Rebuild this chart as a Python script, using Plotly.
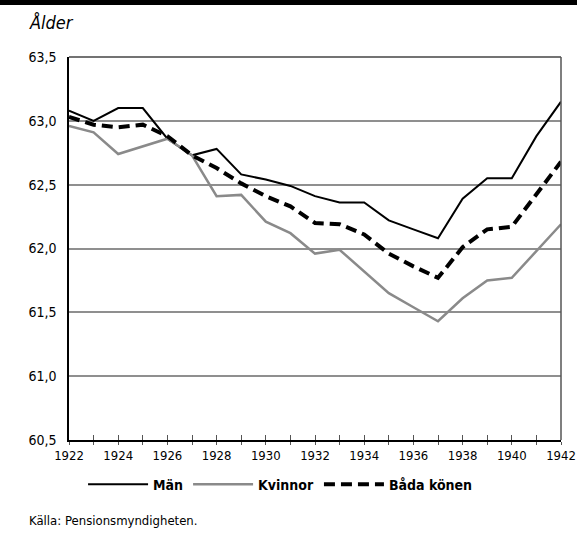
import plotly.graph_objects as go

# Genomsnittlig pensioneringsålder per födelseår
years = list(range(1922, 1943))
man = [63.08, 63.00, 63.10, 63.10, 62.86, 62.73, 62.78, 62.58, 62.54, 62.49, 62.41,
       62.36, 62.36, 62.22, 62.15, 62.08, 62.39, 62.55, 62.55, 62.88, 63.15]
kvinnor = [62.96, 62.91, 62.74, 62.80, 62.86, 62.73, 62.41, 62.42, 62.21, 62.12, 61.96,
           61.99, 61.82, 61.65, 61.54, 61.43, 61.61, 61.75, 61.77, 61.98, 62.19]
bada = [63.03, 62.97, 62.95, 62.97, 62.88, 62.73, 62.63, 62.51, 62.41, 62.33, 62.20,
        62.19, 62.11, 61.96, 61.86, 61.77, 62.01, 62.15, 62.17, 62.42, 62.68]
y_ticks = [60.5, 61.0, 61.5, 62.0, 62.5, 63.0, 63.5]
x_labels = list(range(1922, 1943, 2))

FONT = "DejaVu Sans Condensed, DejaVu Sans, sans-serif"

fig = go.Figure()
fig.add_trace(go.Scatter(x=years, y=man, mode="lines", name="Män",
                         line=dict(color="#000000", width=2)))
fig.add_trace(go.Scatter(x=years, y=kvinnor, mode="lines", name="Kvinnor",
                         line=dict(color="#8a8a8a", width=2.5)))
fig.add_trace(go.Scatter(x=years, y=bada, mode="lines", name="Båda könen",
                         line=dict(color="#000000", width=4, dash="11px,6px")))

# invisible trace to carry the inner half of the crossing x ticks
fig.add_trace(go.Scatter(x=years, y=bada, mode="lines", xaxis="x2",
                         line=dict(width=0), showlegend=False, hoverinfo="skip"))

fig.update_layout(
    width=577, height=544,
    margin=dict(l=69, r=16, t=57, b=104, autoexpand=False),
    paper_bgcolor="white", plot_bgcolor="white",
    separators=", ",
    font=dict(family=FONT, size=14, color="#000000"),
    showlegend=True,
    legend=dict(orientation="h", x=0.43, xanchor="center", y=-0.075, yanchor="top",
                font=dict(family=FONT, size=14, color="#000000", weight="bold"),
                itemwidth=60, traceorder="normal"),
    xaxis=dict(range=[1922, 1942], tickvals=x_labels, ticktext=[str(v) for v in x_labels],
               showgrid=False, showline=True, linecolor="#000000", linewidth=1.5,
               mirror=False, ticks="outside", ticklen=3, tickcolor="#555555",
               tickwidth=1, zeroline=False, ticklabeloverflow="allow",
               tickfont=dict(size=13),
               minor=dict(ticks="outside", ticklen=3, dtick=1, tickcolor="#555555")),
    xaxis2=dict(range=[1922, 1942], overlaying="x", side="bottom", anchor="y",
                tickvals=years, ticks="inside", ticklen=5, tickcolor="#555555",
                showticklabels=False, showgrid=False, showline=False, zeroline=False),
    yaxis=dict(range=[60.5, 63.5], tickvals=y_ticks, tickformat=".1f",
               showgrid=True, gridcolor="#8f8f8f", gridwidth=1.5,
               showline=True, linecolor="#000000", linewidth=1.5, mirror=False,
               ticks="", ticklabelstandoff=8, zeroline=False),
    shapes=[
        dict(type="rect", xref="paper", yref="paper", x0=-0.2, x1=1.1,
             y0=1.0 + 52 / 383, y1=1.2, fillcolor="#000000", line=dict(width=0),
             layer="above"),
        dict(type="line", xref="paper", yref="paper", x0=0, x1=1, y0=1, y1=1,
             line=dict(color="#444444", width=1.5)),
        dict(type="line", xref="paper", yref="paper", x0=1, x1=1, y0=0, y1=1,
             line=dict(color="#555555", width=1.5)),
    ],
    annotations=[
        dict(text="Ålder", xref="paper", yref="paper", x=-42 / 492, y=1.0 + 35 / 383,
             xanchor="left", yanchor="middle", showarrow=False,
             font=dict(family=FONT, size=18, color="#000000", style="italic")),
        dict(text="Källa: Pensionsmyndigheten.", xref="paper", yref="paper",
             x=-42 / 492, y=-80 / 383, xanchor="left", yanchor="middle",
             showarrow=False, font=dict(family=FONT, size=13, color="#000000")),
    ],
)

fig.write_html("out.html", config={"displayModeBar": False},
               post_script="document.body.style.margin='0';")
